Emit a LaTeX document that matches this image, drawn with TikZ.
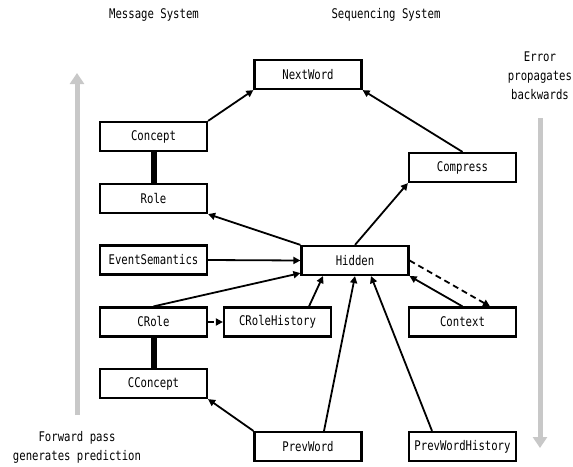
\documentclass[tikz,border=0pt]{standalone}
\usepackage{fontspec}
\newfontfamily\lblfam[FakeStretch=0.8]{DejaVu Sans Mono}
\newcommand\lblfont{\lblfam\fontsize{13.3pt}{19pt}\selectfont}
\usetikzlibrary{arrows.meta,calc}
\definecolor{bargray}{RGB}{200,200,200}
\tikzset{
  box/.style={draw, line width=2.2pt, minimum width=107pt, minimum height=29pt, inner sep=0pt, font=\lblfont},
  lbl/.style={font=\lblfont, align=center, inner sep=0pt},
  conn/.style={line width=1.8pt, -{Triangle[length=7pt,width=7pt]}},
  dconn/.style={conn, dash pattern=on 6pt off 4pt},
  bond/.style={line width=6pt},
  bigarrow/.style={line width=5pt, color=bargray, -{Triangle[length=11pt,width=14pt]}}
}
\begin{document}
\begin{tikzpicture}[x=1pt,y=-1pt]
\useasboundingbox (0,0) rectangle (573,466);
% labels
\node[lbl] (msg) at (154,15) {Message System};
\node[lbl] (seq) at (386,15) {Sequencing System};
\node[lbl] (err) at (540,75.5) {Error\\propagates\\backwards};
\node[lbl] (fwd) at (77,447) {Forward pass\\generates prediction};
% gray arrows
\coordinate (upS) at (77,415);
\coordinate (upE) at (77,73);
\coordinate (dnS) at (540,118);
\coordinate (dnE) at (540,448);
\draw[bigarrow] (upS) -- (upE);
\draw[bigarrow] (dnS) -- (dnE);
% boxes
\node[box] (NextWord) at (308,74.5) {NextWord};
\node[box] (Concept) at (153.5,136.5) {Concept};
\node[box] (Compress) at (462.5,167.5) {Compress};
\node[box] (Role) at (153.5,198.5) {Role};
\node[box] (EventSemantics) at (153.5,260) {EventSemantics};
\node[box] (Hidden) at (355,260.5) {Hidden};
\node[box] (CRole) at (153.5,322) {CRole};
\node[box] (CRoleHistory) at (277.5,322) {CRoleHistory};
\node[box] (Context) at (462.5,322) {Context};
\node[box] (CConcept) at (153.5,383.5) {CConcept};
\node[box] (PrevWord) at (308,446.5) {PrevWord};
\node[box] (PrevWordHistory) at (462.5,446.5) {PrevWordHistory};
% bonds
\draw[bond] (Concept.south) -- (Role.north);
\draw[bond] (CRole.south) -- (CConcept.north);
% connectors
\draw[conn] (Concept.north east) -- (NextWord.south west);
\draw[conn] (Compress.north) -- (NextWord.south east);
\draw[conn] (Hidden.north) -- (Compress.south west);
\draw[conn] (Hidden.north west) -- (Role.south east);
\draw[conn] (EventSemantics.east) -- (Hidden.west);
\draw[conn] (CRole.north) -- ($(Hidden.south west)+(0,-3)$);
\draw[conn] ($(CRoleHistory.north)+(31.5,0)$) -- ($(Hidden.south)+(-32,0)$);
\draw[conn] ($(PrevWord.north)+(16,0)$) -- (Hidden.south);
\draw[conn] ($(PrevWordHistory.north)+(-30.5,0)$) -- ($(Hidden.south)+(16,0)$);
\draw[conn] (Context.north) -- (Hidden.south east);
\draw[dconn] (Hidden.east) -- ($(Context.north)+(27.5,0)$);
\draw[dconn] (CRole.east) -- (CRoleHistory.west);
\draw[conn] (PrevWord.north west) -- (CConcept.south east);
\end{tikzpicture}
\end{document}
